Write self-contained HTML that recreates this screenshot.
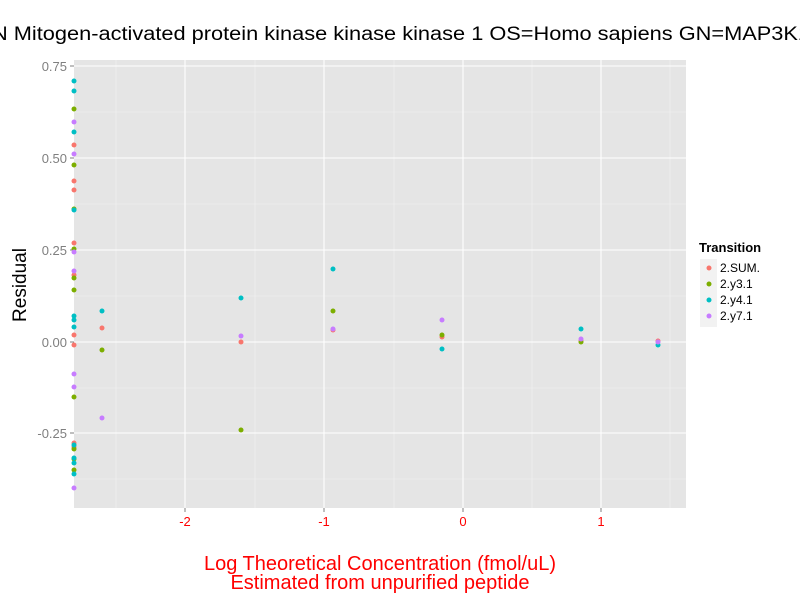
<!DOCTYPE html>
<html><head><style>body{margin:0;background:#fff}svg{display:block}</style></head><body>
<svg width="800" height="600" xmlns="http://www.w3.org/2000/svg" font-family="Liberation Sans, sans-serif">
<rect width="800" height="600" fill="#fff"/>
<text x="-8" y="40" font-size="19" fill="#000" textLength="818" lengthAdjust="spacingAndGlyphs">N Mitogen-activated protein kinase kinase kinase 1 OS=Homo sapiens GN=MAP3K1</text>
<rect x="74" y="60" width="612" height="448" fill="#e5e5e5"/>
<g stroke="#f2f2f2" stroke-width="0.6">
<line x1="74" x2="686" y1="112" y2="112"/><line x1="74" x2="686" y1="204" y2="204"/><line x1="74" x2="686" y1="296" y2="296"/><line x1="74" x2="686" y1="388" y2="388"/><line x1="74" x2="686" y1="479" y2="479"/>
<line y1="60" y2="508" x1="116" x2="116"/><line y1="60" y2="508" x1="255" x2="255"/><line y1="60" y2="508" x1="394" x2="394"/><line y1="60" y2="508" x1="532" x2="532"/><line y1="60" y2="508" x1="670" x2="670"/>
</g>
<g stroke="#fff" stroke-width="1.1">
<line x1="74" x2="686" y1="66" y2="66"/><line x1="74" x2="686" y1="158" y2="158"/><line x1="74" x2="686" y1="250" y2="250"/><line x1="74" x2="686" y1="342" y2="342"/><line x1="74" x2="686" y1="433" y2="433"/>
<line y1="60" y2="508" x1="185" x2="185"/><line y1="60" y2="508" x1="324" x2="324"/><line y1="60" y2="508" x1="463" x2="463"/><line y1="60" y2="508" x1="601" x2="601"/>
</g>
<g stroke="#7f7f7f"><line x1="70" x2="74" y1="66" y2="66"/><line x1="70" x2="74" y1="158" y2="158"/><line x1="70" x2="74" y1="250" y2="250"/><line x1="70" x2="74" y1="342" y2="342"/><line x1="70" x2="74" y1="433" y2="433"/>
<line y1="508" y2="512" x1="185" x2="185"/><line y1="508" y2="512" x1="324" x2="324"/><line y1="508" y2="512" x1="463" x2="463"/><line y1="508" y2="512" x1="601" x2="601"/></g>
<g font-size="13" fill="#7f7f7f" text-anchor="end"><text x="67" y="71">0.75</text><text x="67" y="163">0.50</text><text x="67" y="255">0.25</text><text x="67" y="347">0.00</text><text x="67" y="438">-0.25</text></g>
<g font-size="13" fill="#ff0000" text-anchor="middle"><text x="185" y="526">-2</text><text x="324" y="526">-1</text><text x="463" y="526">0</text><text x="601" y="526">1</text></g>
<g font-size="20" fill="#ff0000" text-anchor="middle"><text x="380" y="570">Log Theoretical Concentration (fmol/uL)</text><text x="380" y="589">Estimated from unpurified peptide</text></g>
<text transform="translate(26,285) rotate(-90)" font-size="19" text-anchor="middle">Residual</text>
<g>
<g fill="#F8766D"><circle cx="74" cy="145" r="2.5"/><circle cx="74" cy="181" r="2.5"/><circle cx="74" cy="190" r="2.5"/><circle cx="74" cy="243" r="2.5"/><circle cx="74" cy="275" r="2.5"/><circle cx="74" cy="335" r="2.5"/><circle cx="74" cy="345" r="2.5"/><circle cx="74" cy="443" r="2.5"/><circle cx="74" cy="447" r="2.5"/>
<circle cx="102" cy="328" r="2.5"/><circle cx="241" cy="342" r="2.5"/><circle cx="333" cy="330" r="2.5"/><circle cx="442" cy="337" r="2.5"/><circle cx="581" cy="341" r="2.5"/><circle cx="658" cy="341" r="2.5"/></g>
<g fill="#7CAE00"><circle cx="74" cy="109" r="2.5"/><circle cx="74" cy="165" r="2.5"/><circle cx="74" cy="209" r="2.5"/><circle cx="74" cy="249" r="2.5"/><circle cx="74" cy="278" r="2.5"/><circle cx="74" cy="290" r="2.5"/><circle cx="74" cy="397" r="2.5"/><circle cx="74" cy="449" r="2.5"/><circle cx="74" cy="459" r="2.5"/><circle cx="74" cy="470" r="2.5"/>
<circle cx="102" cy="350" r="2.5"/><circle cx="241" cy="430" r="2.5"/><circle cx="333" cy="311" r="2.5"/><circle cx="442" cy="335" r="2.5"/><circle cx="581" cy="342" r="2.5"/></g>
<g fill="#00BFC4"><circle cx="74" cy="81" r="2.5"/><circle cx="74" cy="91" r="2.5"/><circle cx="74" cy="132" r="2.5"/><circle cx="74" cy="210" r="2.5"/><circle cx="74" cy="316" r="2.5"/><circle cx="74" cy="320" r="2.5"/><circle cx="74" cy="327" r="2.5"/><circle cx="74" cy="445" r="2.5"/><circle cx="74" cy="458" r="2.5"/><circle cx="74" cy="463" r="2.5"/><circle cx="74" cy="474" r="2.5"/>
<circle cx="102" cy="311" r="2.5"/><circle cx="241" cy="298" r="2.5"/><circle cx="333" cy="269" r="2.5"/><circle cx="442" cy="349" r="2.5"/><circle cx="581" cy="329" r="2.5"/><circle cx="658" cy="345" r="2.5"/></g>
<g fill="#C77CFF"><circle cx="74" cy="122" r="2.5"/><circle cx="74" cy="154" r="2.5"/><circle cx="74" cy="252" r="2.5"/><circle cx="74" cy="271" r="2.5"/><circle cx="74" cy="374" r="2.5"/><circle cx="74" cy="387" r="2.5"/><circle cx="74" cy="488" r="2.5"/>
<circle cx="102" cy="418" r="2.5"/><circle cx="241" cy="336" r="2.5"/><circle cx="333" cy="329" r="2.5"/><circle cx="442" cy="320" r="2.5"/><circle cx="581" cy="339" r="2.5"/><circle cx="658" cy="342" r="2.5"/></g>
</g>
<text x="699" y="252" font-size="13" font-weight="bold">Transition</text>
<rect x="700" y="259" width="17" height="68" fill="#f2f2f2"/>
<circle cx="709" cy="268" r="2.5" fill="#F8766D"/><circle cx="709" cy="284" r="2.5" fill="#7CAE00"/><circle cx="709" cy="300" r="2.5" fill="#00BFC4"/><circle cx="709" cy="316" r="2.5" fill="#C77CFF"/>
<g font-size="12"><text x="720" y="272">2.SUM.</text><text x="720" y="288">2.y3.1</text><text x="720" y="304">2.y4.1</text><text x="720" y="320">2.y7.1</text></g>
</svg>
</body></html>
